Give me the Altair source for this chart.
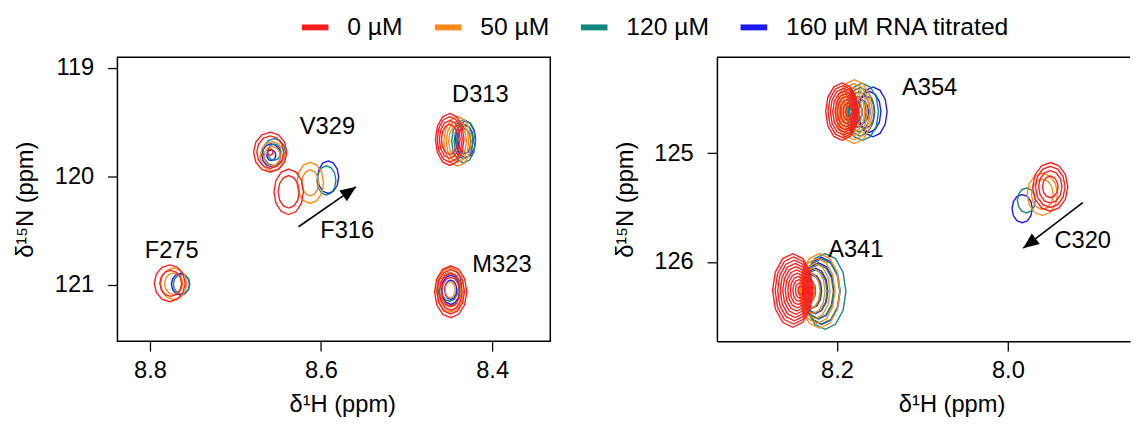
import math
import altair as alt
import pandas as pd

FONT = "Liberation Sans"

SERIES = ["0 µM", "50 µM", "120 µM", "160 µM RNA titrated"]
COLORS = ["#FF1E1E", "#FF8A1A", "#13877F", "#1A1AF5"]
DRAW_ORDER = [3, 2, 1, 0]  # blue first ... red on top

PEAKS_LEFT = ["F275", "V329", "F316", "D313", "M323"]
PEAKS_RIGHT = ["A354", "A341", "C320"]

# peak centres per series (0, 50, 120, 160 µM): 1H ppm, 15N ppm,
# contour ring extents along 15N (ppm), 1H drift of outer ring (ppm)
F275_H = [8.7729, 8.7723, 8.7631, 8.7643]
F275_N = [120.986, 120.990, 120.995, 120.995]
F275_RINGS = [[0.34, 0.24], [0.29, 0.20], [0.18], [0.20]]
F275_SHIFT = [0.004, 0.0, 0.0, 0.0]

V329_H = [8.6594, 8.6571, 8.6548, 8.6582]
V329_N = [119.776, 119.813, 119.776, 119.804]
V329_RINGS = [[0.37, 0.30, 0.06], [0.27, 0.18], [0.25, 0.15], [0.21, 0.10]]
V329_SHIFT = [0.0, 0.0, 0.0, 0.0]

F316_H = [8.6378, 8.6127, 8.5937, 8.5917]
F316_N = [120.142, 120.059, 120.037, 120.007]
F316_RINGS = [[0.42, 0.30], [0.38, 0.24], [0.27], [0.30]]
F316_SHIFT = [0.0, 0.0, 0.0, 0.0]

D313_H = [8.4496, 8.4404, 8.4334, 8.4311]
D313_N = [119.658, 119.676, 119.676, 119.658]
D313_RINGS = [[0.48, 0.42, 0.35, 0.28], [0.46, 0.38, 0.30], [0.40, 0.32, 0.24], [0.34, 0.26]]
D313_SHIFT = [0.0, 0.0, 0.0, 0.0]

M323_H = [8.4484, 8.4490, 8.4496, 8.4484]
M323_N = [121.064, 121.046, 121.018, 121.046]
M323_RINGS = [[0.48, 0.41, 0.34, 0.27], [0.41, 0.32, 0.15], [0.36, 0.27], [0.27, 0.18]]
M323_SHIFT = [0.0, 0.0, 0.0, 0.0]

A354_H = [8.1842, 8.1839, 8.1836, 8.1830]
A354_N = [124.618, 124.618, 124.620, 124.620]
A354_RINGS = [[0.53, 0.48, 0.43, 0.38, 0.33, 0.28, 0.22, 0.16, 0.10],
              [0.59, 0.52, 0.45, 0.38, 0.31, 0.24, 0.17],
              [0.53, 0.45, 0.37, 0.29, 0.21, 0.13],
              [0.46, 0.38, 0.30, 0.22, 0.14]]
A354_SHIFT = [0.010, -0.004, -0.013, -0.025]

A341_H = [8.2418, 8.2415, 8.2410, 8.2410]
A341_N = [126.261, 126.265, 126.270, 126.265]
A341_RINGS = [[0.68, 0.62, 0.56, 0.50, 0.44, 0.38, 0.32, 0.26, 0.20, 0.14, 0.08],
              [0.69, 0.60, 0.51, 0.42, 0.33, 0.24, 0.15],
              [0.70, 0.60, 0.50, 0.40, 0.30, 0.20],
              [0.62, 0.52, 0.42, 0.32, 0.22]]
A341_SHIFT = [0.010, -0.021, -0.027, -0.023]

C320_H = [7.9504, 7.9597, 7.9784, 7.9833]
C320_N = [125.309, 125.377, 125.434, 125.509]
C320_RINGS = [[0.45, 0.38, 0.30, 0.20], [0.39, 0.28], [0.23], [0.26]]
C320_SHIFT = [0.0, 0.0, 0.0, 0.0]

PEAK_DATA = {
    "F275": (F275_H, F275_N, F275_RINGS, F275_SHIFT),
    "V329": (V329_H, V329_N, V329_RINGS, V329_SHIFT),
    "F316": (F316_H, F316_N, F316_RINGS, F316_SHIFT),
    "D313": (D313_H, D313_N, D313_RINGS, D313_SHIFT),
    "M323": (M323_H, M323_N, M323_RINGS, M323_SHIFT),
    "A354": (A354_H, A354_N, A354_RINGS, A354_SHIFT),
    "A341": (A341_H, A341_N, A341_RINGS, A341_SHIFT),
    "C320": (C320_H, C320_N, C320_RINGS, C320_SHIFT),
}

# residue labels
LABELS_LEFT = ["F275", "V329", "F316", "D313", "M323"]
LABELS_LEFT_H = [8.7746, 8.5925, 8.5695, 8.4138, 8.3885]
LABELS_LEFT_N = [120.689, 119.548, 120.507, 119.247, 120.817]
LABELS_RIGHT = ["A354", "A341", "C320"]
LABELS_RIGHT_H = [8.0916, 8.1781, 7.9124]
LABELS_RIGHT_N = [124.400, 125.886, 125.809]

# arrows: start -> tip
ARROW_LEFT_H = [8.6263, 8.5591]
ARROW_LEFT_N = [120.464, 120.096]
ARROW_RIGHT_H = [7.9124, 7.9821]
ARROW_RIGHT_N = [125.4545, 125.873]

# axes
X_LEFT_DOMAIN = [8.332, 8.838]
Y_LEFT_DOMAIN = [118.90, 121.52]
X_RIGHT_DOMAIN = [7.857, 8.3406]
Y_RIGHT_DOMAIN = [124.118, 126.727]
X_LEFT_TICKS = [8.4, 8.6, 8.8]
Y_LEFT_TICKS = [119, 120, 121]
X_RIGHT_TICKS = [8.0, 8.2]
Y_RIGHT_TICKS = [125, 126]

# ---------- styles ----------
ASPECT = {"F275": 0.84, "V329": 0.83, "F316": 0.65, "D313": 0.55,
          "M323": 0.62, "A354": 0.57, "A341": 0.55, "C320": 0.72}


def poly_path(aspect, n=12):
    pts = []
    for i in range(n):
        t = 2 * math.pi * i / n
        pts.append(f"{aspect * math.sin(t):.3f} {-math.cos(t):.3f}")
    return "M " + " L ".join(pts) + " Z"


ALL_PEAKS = PEAKS_LEFT + PEAKS_RIGHT
SHAPES = [poly_path(ASPECT[p]) for p in ALL_PEAKS]
HEAD_PATH = "M 0 0 L 0.42 1 L -0.42 1 Z"

W_L, W_R, H_P = 439, 419, 288


def contour_frame(peaks):
    rows = []
    for peak in peaks:
        hs, ns, rings, shifts = PEAK_DATA[peak]
        for s in DRAW_ORDER:
            hmax = max(rings[s])
            for h in rings[s]:
                rows.append({"peak": peak, "series": SERIES[s],
                             "H": hs[s] + shifts[s] * h / hmax, "N": ns[s], "h": h})
    return pd.DataFrame(rows)


legend = alt.Legend(orient="none", legendX=184, legendY=-47, direction="horizontal",
                    title=None, symbolType="stroke", symbolSize=729, symbolStrokeWidth=6,
                    labelFont=FONT, labelFontSize=25, labelColor="black", labelOffset=16,
                    columnPadding=20, labelLimit=400, padding=0)


def panel(peaks, labels, lab_h, lab_n, arr_h, arr_n, head_angle,
          xdom, ydom, xticks, yticks, width, frame, title_x):
    xs = alt.Scale(domain=xdom, reverse=True, nice=False, zero=False)
    ys = alt.Scale(domain=ydom, reverse=True, nice=False, zero=False)
    xax = alt.Axis(values=xticks, format=".1f", title="δ¹H (ppm)", domain=not frame,
                   labelPadding=8, titlePadding=10, titleX=title_x)
    yax = alt.Axis(values=yticks, format="d", title="δ¹⁵N (ppm)", domain=not frame,
                   labelPadding=14, titlePadding=17)
    X = alt.X("H:Q", scale=xs, axis=xax)
    Y = alt.Y("N:Q", scale=ys, axis=yax)

    cont = alt.Chart(contour_frame(peaks)).mark_point(
        filled=False, strokeWidth=1.4, opacity=1
    ).encode(
        x=X, y=Y,
        color=alt.Color("series:N", scale=alt.Scale(domain=SERIES, range=COLORS), legend=legend),
        shape=alt.Shape("peak:N", scale=alt.Scale(domain=ALL_PEAKS, range=SHAPES), legend=None),
        size=alt.Size("h:Q", scale=alt.Scale(type="pow", exponent=2, domain=[0, 1],
                                             range=[0, 12050]), legend=None),
    )

    arr = pd.DataFrame({"H": [arr_h[0]], "N": [arr_n[0]], "H2": [arr_h[1]], "N2": [arr_n[1]]})
    line = alt.Chart(arr).mark_rule(color="black", strokeWidth=1.6).encode(
        x=X, y=Y, x2="H2:Q", y2="N2:Q")
    head = alt.Chart(arr).mark_point(shape=HEAD_PATH, filled=True, color="black",
                                     size=1024, angle=head_angle, opacity=1).encode(
        x=alt.X("H2:Q", scale=xs, axis=xax), y=alt.Y("N2:Q", scale=ys, axis=yax))

    lab = pd.DataFrame({"label": labels, "H": lab_h, "N": lab_n})
    text = alt.Chart(lab).mark_text(font=FONT, fontSize=24, color="black").encode(
        x=X, y=Y, text="label:N")

    layers = [cont, line, head, text]
    if frame:
        view = alt.ViewBackground(stroke="black", strokeWidth=1.5)
    else:
        top = alt.Chart(pd.DataFrame({"a": [0]})).mark_rule(color="black", strokeWidth=1.5).encode(
            x=alt.value(0), x2=alt.value(width), y=alt.value(0))
        layers.append(top)
        view = alt.ViewBackground(stroke="transparent")
    return alt.layer(*layers).properties(width=width, height=H_P, view=view)


left = panel(PEAKS_LEFT, LABELS_LEFT, LABELS_LEFT_H, LABELS_LEFT_N,
             ARROW_LEFT_H, ARROW_LEFT_N, 55,
             X_LEFT_DOMAIN, Y_LEFT_DOMAIN, X_LEFT_TICKS, Y_LEFT_TICKS, W_L, True, 228)
right = panel(PEAKS_RIGHT, LABELS_RIGHT, LABELS_RIGHT_H, LABELS_RIGHT_N,
              ARROW_RIGHT_H, ARROW_RIGHT_N, 233,
              X_RIGHT_DOMAIN, Y_RIGHT_DOMAIN, X_RIGHT_TICKS, Y_RIGHT_TICKS, W_R, False, 238)

chart = alt.hconcat(left, right, spacing=62).properties(
    padding={"left": 5, "top": 0, "right": 3, "bottom": 0}
).configure_axis(
    labelFont=FONT, labelFontSize=24, labelColor="black",
    titleFont=FONT, titleFontSize=24, titleFontWeight="normal", titleColor="black",
    tickColor="black", tickSize=10, tickWidth=1.3, grid=False,
    domainColor="black", domainWidth=1.5,
).configure_view(stroke="black")

chart.save("out.html", embed_options={"renderer": "svg", "actions": False})
